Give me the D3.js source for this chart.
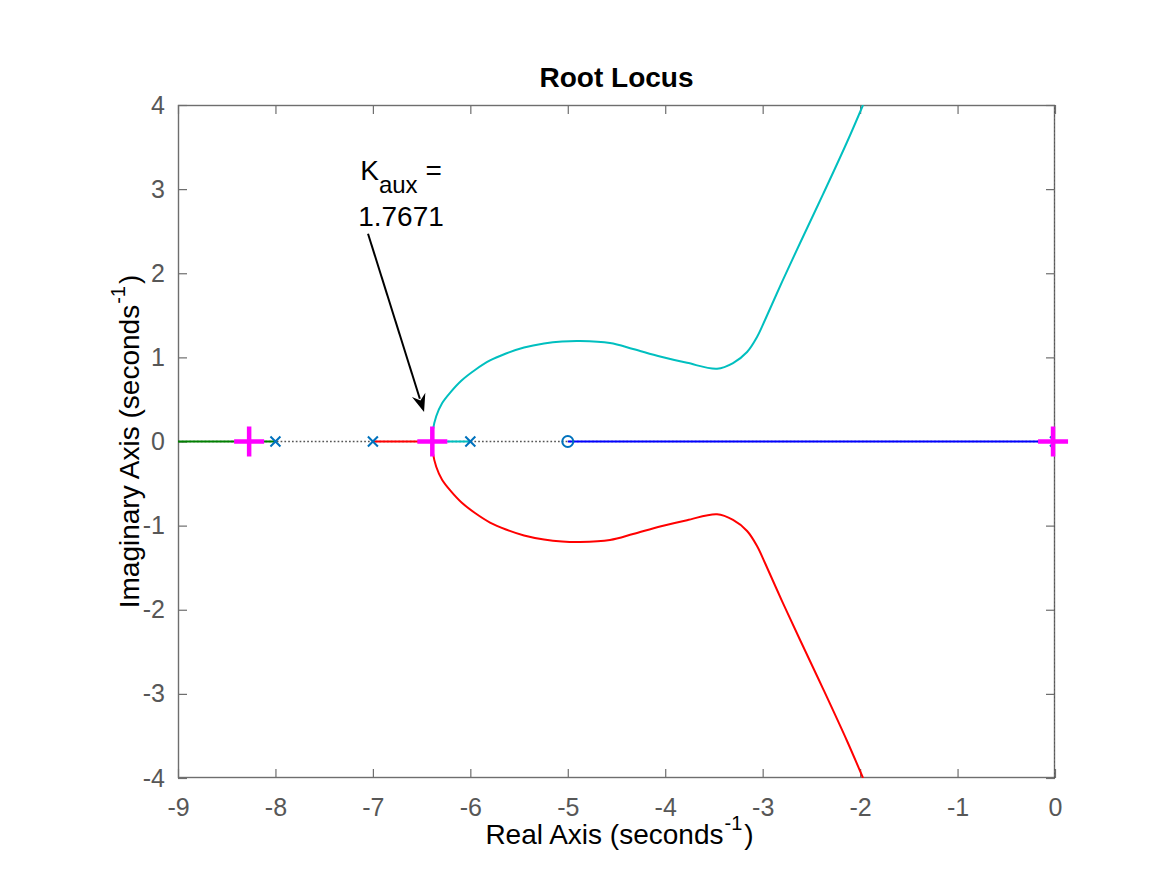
<!DOCTYPE html>
<html>
<head>
<meta charset="utf-8">
<script src="https://cdn.jsdelivr.net/npm/d3@7"></script>
<style>
  html, body { margin: 0; padding: 0; background: #fff; }
  svg { display: block; font-family: "Liberation Sans", Arial, Helvetica, sans-serif; }
</style>
</head>
<body>
<svg id="chart" width="1167" height="875"></svg>
<script>
// ---- data ----
const realTicks = [-9, -8, -7, -6, -5, -4, -3, -2, -1, 0];
const imagTicks = [-4, -3, -2, -1, 0, 1, 2, 3, 4];
const poles = [-8, -7, -6, 0];
const zerosRe = [-5];
const selectedRe = [-8.27, -6.39, -0.02];
const selectedIm = [0, 0, 0];

// real-axis segments of the locus
const greenRe = [-9.0, -8.0];
const greenIm = [0, 0];
const blueRe = [-5.0, 0.0];
const blueIm = [0, 0];
const cyanAxisRe = [-6.0, -6.393];
const cyanAxisIm = [0, 0];
const redAxisRe = [-7.0, -6.393];
const redAxisIm = [0, 0];

// complex branches (after breakaway)
const cyanRe = [-6.393, -6.385, -6.350, -6.290, -6.200, -6.090, -5.952, -5.798, -5.634, -5.449, -5.244, -5.059, -4.874, -4.567, -4.330, -4.053, -3.776, -3.468, -3.304, -3.160, -3.058, -2.976, -2.800, -2.616, -2.380, -2.134, -1.970];
const cyanIm = [0, 0.130, 0.300, 0.455, 0.590, 0.725, 0.850, 0.963, 1.046, 1.117, 1.165, 1.189, 1.195, 1.171, 1.100, 1.010, 0.935, 0.866, 0.933, 1.064, 1.242, 1.444, 1.900, 2.360, 2.940, 3.560, 4.000];

const redRe = [-6.393, -6.385, -6.350, -6.290, -6.200, -6.090, -5.952, -5.798, -5.634, -5.449, -5.244, -5.059, -4.874, -4.567, -4.330, -4.053, -3.776, -3.468, -3.304, -3.160, -3.058, -2.976, -2.800, -2.616, -2.380, -2.134, -1.970];
const redIm = [0, -0.130, -0.300, -0.455, -0.590, -0.725, -0.850, -0.963, -1.046, -1.117, -1.165, -1.189, -1.195, -1.171, -1.100, -1.010, -0.935, -0.866, -0.933, -1.064, -1.242, -1.444, -1.900, -2.360, -2.940, -3.560, -4.000];

const annotationLines = ["K", "1.7671"];
const arrowFrom = [-7.05, 2.47];
const arrowTo = [-6.475, 0.35];

// ---- layout ----
const W = 1167, H = 875;
const margin = {left: 178, right: 112, top: 105, bottom: 97};
const pw = W - margin.left - margin.right;
const ph = H - margin.top - margin.bottom;

const svg = d3.select("#chart");
const x = d3.scaleLinear().domain([-9, 0]).range([margin.left, margin.left + pw]);
const y = d3.scaleLinear().domain([-4, 4]).range([margin.top + ph, margin.top]);

const axisColor = "#6e6e6e";
const tickText = "#575757";
const fmt = d => String(d);

svg.append("defs").append("clipPath").attr("id", "clip")
  .append("rect").attr("x", margin.left).attr("y", margin.top).attr("width", pw).attr("height", ph);

// axes box & ticks
const gAxes = svg.append("g");
const tickLen = 9;
function styleAxis(g) {
  g.select(".domain").remove();
  g.selectAll(".tick line").attr("stroke", axisColor).attr("stroke-width", 1.2);
  g.selectAll(".tick text").attr("fill", tickText).attr("font-size", 25)
    .attr("font-family", "'Liberation Sans', Arial, sans-serif");
}
gAxes.append("g").attr("transform", `translate(0,${margin.top + ph})`)
  .call(d3.axisBottom(x).tickValues(realTicks).tickFormat(fmt).tickSizeInner(-tickLen).tickSizeOuter(0).tickPadding(20))
  .call(styleAxis);
gAxes.append("g").attr("transform", `translate(0,${margin.top})`)
  .call(d3.axisTop(x).tickValues(realTicks).tickFormat("").tickSizeInner(-tickLen).tickSizeOuter(0))
  .call(styleAxis);
gAxes.append("g").attr("transform", `translate(${margin.left},0)`)
  .call(d3.axisLeft(y).tickValues(imagTicks).tickFormat(fmt).tickSizeInner(-tickLen).tickSizeOuter(0).tickPadding(13))
  .call(styleAxis);
gAxes.append("g").attr("transform", `translate(${margin.left + pw},0)`)
  .call(d3.axisRight(y).tickValues(imagTicks).tickFormat("").tickSizeInner(-tickLen).tickSizeOuter(0))
  .call(styleAxis);
gAxes.append("rect").attr("x", margin.left + 0.5).attr("y", margin.top + 0.5)
  .attr("width", pw - 1).attr("height", ph - 1)
  .attr("fill", "none").attr("stroke", axisColor).attr("stroke-width", 1.4);

// data layer
const gData = svg.append("g").attr("clip-path", "url(#clip)");

// dotted real / imaginary axis lines
gData.append("line").attr("x1", x(-9)).attr("x2", x(0)).attr("y1", y(0)).attr("y2", y(0))
  .attr("stroke", "#555").attr("stroke-width", 1.7).attr("stroke-dasharray", "1.7,2.1");
gData.append("line").attr("x1", x(0)).attr("x2", x(0)).attr("y1", y(-4)).attr("y2", y(4))
  .attr("stroke", "#555").attr("stroke-width", 1.7).attr("stroke-dasharray", "1.7,2.1");

const straight = d3.line().x(d => x(d[0])).y(d => y(d[1]));
const smooth = d3.line().x(d => x(d[0])).y(d => y(d[1])).curve(d3.curveCatmullRom.alpha(0.5));
const branches = [
  {re: greenRe, im: greenIm, color: "#008000", gen: straight},
  {re: blueRe, im: blueIm, color: "#0000FF", gen: straight},
  {re: cyanAxisRe, im: cyanAxisIm, color: "#00BFBF", gen: straight},
  {re: redAxisRe, im: redAxisIm, color: "#FF0000", gen: straight},
  {re: cyanRe, im: cyanIm, color: "#00BFBF", gen: smooth},
  {re: redRe, im: redIm, color: "#FF0000", gen: smooth}
];
branches.forEach(b => {
  gData.append("path").datum(d3.zip(b.re, b.im))
    .attr("d", b.gen).attr("fill", "none").attr("stroke", b.color)
    .attr("stroke-width", 2).attr("stroke-linejoin", "round");
});

// poles (x) and zeros (o)
const poleColor = "#0072BD";
const ps = 5;
poles.forEach(p => {
  const cx = x(p), cy = y(0);
  gData.append("path")
    .attr("d", `M${cx - ps},${cy - ps}L${cx + ps},${cy + ps}M${cx - ps},${cy + ps}L${cx + ps},${cy - ps}`)
    .attr("stroke", poleColor).attr("stroke-width", 2).attr("fill", "none");
});
zerosRe.forEach(z => {
  gData.append("circle").attr("cx", x(z)).attr("cy", y(0)).attr("r", 5.5)
    .attr("fill", "none").attr("stroke", poleColor).attr("stroke-width", 2);
});

// selected closed-loop poles (magenta +)
const plusSize = 15;
const gSel = svg.append("g");
selectedRe.forEach((r, i) => {
  const cx = x(r), cy = y(selectedIm[i]);
  gSel.append("path")
    .attr("d", `M${cx - plusSize},${cy}L${cx + plusSize},${cy}M${cx},${cy - plusSize}L${cx},${cy + plusSize}`)
    .attr("stroke", "#FF00FF").attr("stroke-width", 4.5).attr("fill", "none");
});

// annotation arrow
const ax1 = x(arrowFrom[0]), ay1 = y(arrowFrom[1]);
const ax2 = x(arrowTo[0]), ay2 = y(arrowTo[1]);
const ang = Math.atan2(ay2 - ay1, ax2 - ax1);
const headLen = 18, headW = 7;
const bx = ax2 - headLen * Math.cos(ang), by = ay2 - headLen * Math.sin(ang);
svg.append("line").attr("x1", ax1).attr("y1", ay1).attr("x2", bx + 4 * Math.cos(ang)).attr("y2", by + 4 * Math.sin(ang))
  .attr("stroke", "#000").attr("stroke-width", 2);
const nx = -Math.sin(ang), ny = Math.cos(ang);
svg.append("path")
  .attr("d", `M${ax2},${ay2}L${bx + nx * headW},${by + ny * headW}L${bx + 6 * Math.cos(ang)},${by + 6 * Math.sin(ang)}L${bx - nx * headW},${by - ny * headW}Z`)
  .attr("fill", "#000");

// annotation text
const tx = 401;
const t1 = svg.append("text").attr("x", tx).attr("y", 180).attr("text-anchor", "middle")
  .attr("font-size", 28).attr("fill", "#000");
t1.append("tspan").text(annotationLines[0]);
t1.append("tspan").attr("dy", 13).attr("font-size", 24).text("aux");
t1.append("tspan").attr("dy", -13).text(" =");
svg.append("text").attr("x", tx).attr("y", 226).attr("text-anchor", "middle")
  .attr("font-size", 28).attr("fill", "#000").text(annotationLines[1]);

// title
svg.append("text").attr("x", margin.left + pw / 2).attr("y", 87).attr("text-anchor", "middle")
  .attr("font-size", 28).attr("font-weight", "bold").attr("fill", "#000").text("Root Locus");

// x label
const xl = svg.append("text").attr("x", margin.left + pw / 2 + 3).attr("y", 844).attr("text-anchor", "middle")
  .attr("font-size", 28).attr("fill", "#000");
xl.append("tspan").text("Real Axis (seconds");
xl.append("tspan").attr("dy", -14).attr("dx", 1).attr("font-size", 20).text("-1");
xl.append("tspan").attr("dy", 14).attr("dx", 2).text(")");

// y label
const yl = svg.append("text").attr("transform", `translate(139,${margin.top + ph / 2}) rotate(-90)`)
  .attr("text-anchor", "middle").attr("font-size", 28).attr("fill", "#000");
yl.append("tspan").text("Imaginary Axis (seconds");
yl.append("tspan").attr("dy", -14).attr("dx", 1).attr("font-size", 20).text("-1");
yl.append("tspan").attr("dy", 14).attr("dx", 2).text(")");
</script>
</body>
</html>
